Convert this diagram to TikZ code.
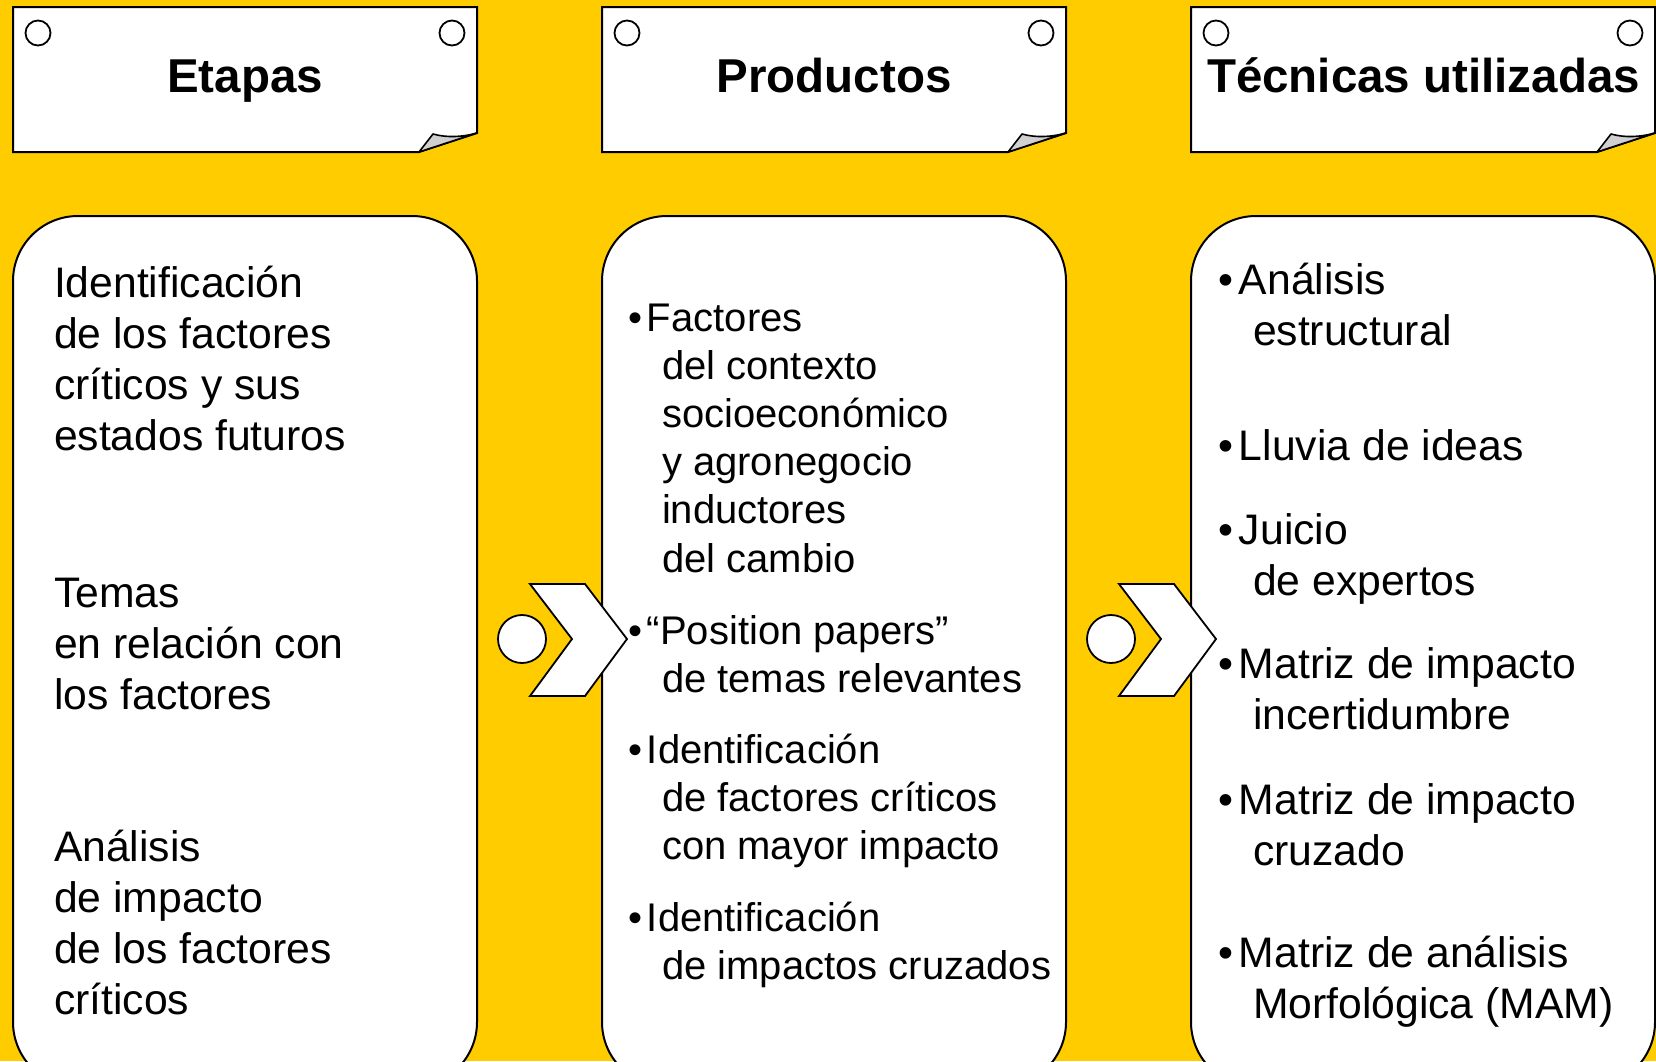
\documentclass[tikz,border=0pt]{standalone}
\usepackage{fontspec}
\setmainfont{Liberation Sans}
\definecolor{bg}{RGB}{255,204,0}
\definecolor{flapgray}{RGB}{208,208,208}
\newcommand\stk[2]{\vtop{\baselineskip=#1\lineskip=0pt\lineskiplimit=-1000pt\halign{##\hfil\cr#2\crcr}}}
\newcommand\bu[1]{\makebox[#1][l]{•}}
\begin{document}
\begin{tikzpicture}[x=1pt,y=-1pt,line width=2pt,
  every node/.style={inner sep=0pt,outer sep=0pt},
  card/.style={fill=white,draw=black,line join=miter},
  flapst/.style={fill=flapgray,draw=black,line width=1.6pt,line join=round},
  hole/.style={fill=white,draw=black,line width=1.8pt},
  panel/.style={fill=white,draw=black,rounded corners=65pt},
  chev/.style={fill=white,draw=black,line width=1.8pt,line join=miter},
  head/.style={font=\fontsize{47.5pt}{57pt}\selectfont\bfseries,anchor=base},
  ta/.style={font=\fontsize{42.7pt}{51pt}\selectfont,anchor=base west},
  tb/.style={font=\fontsize{40pt}{48pt}\selectfont,anchor=base west},
  tc/.style={font=\fontsize{42.7pt}{51pt}\selectfont,anchor=base west}]
\clip (0,0) rectangle (1656,1061);
\fill[bg] (0,0) rectangle (1656,1061);
\useasboundingbox (0,0) rectangle (1656,1061);

% header cards and panels
\foreach \x in {13,602,1191}{
  \draw[card] (\x,7) -- ++(464,0) -- ++(0,126) -- ++(-58,19) -- (\x,152) -- cycle;
  \draw[flapst] (\x+406,152) -- (\x+420,134) .. controls (\x+434,138) and (\x+450,137) .. (\x+464,133) -- cycle;
  \draw[hole] (\x+25,33) circle (12.5pt);
  \draw[hole] (\x+439,33) circle (12.5pt);
  \draw[panel] (\x,216) rectangle ++(464,871);
}

% chevrons
\foreach \o in {0,589}{
  \draw[chev] (530+\o,584) -- (585+\o,584) -- (627+\o,639) -- (585+\o,696) -- (530+\o,696) -- (572+\o,639) -- cycle;
  \draw[hole] (522+\o,639) circle (24pt);
}

% headers
\node[head] (h1) at (245,92) {Etapas};
\node[head] (h2) at (834,92) {Productos};
\node[head] (h3) at (1423.5,92) {Técnicas utilizadas};

% column 1
\node[ta] (e1) at (54,297) {\stk{51pt}{Identificación\cr de los factores\cr críticos y sus\cr estados futuros}};
\node[ta] (e2) at (54,607) {\stk{51pt}{Temas\cr en relación con\cr los factores}};
\node[ta] (e3) at (54,861) {\stk{51pt}{Análisis\cr de impacto\cr de los factores\cr críticos}};

% column 2
\node[tb] (p1) at (628,331) {\stk{48.2pt}{\bu{19pt}Factores\cr\hspace*{34pt}del contexto\cr\hspace*{34pt}socioeconómico\cr\hspace*{34pt}y agronegocio\cr\hspace*{34pt}inductores\cr\hspace*{34pt}del cambio}};
\node[tb] (p2) at (628,644) {\stk{48pt}{\bu{19pt}“Position papers”\cr\hspace*{34pt}de temas relevantes}};
\node[tb] (p3) at (628,763) {\stk{48.2pt}{\bu{19pt}Identificación\cr\hspace*{34pt}de factores críticos\cr\hspace*{34pt}con mayor impacto}};
\node[tb] (p4) at (628,931) {\stk{48pt}{\bu{19pt}Identificación\cr\hspace*{34pt}de impactos cruzados}};

% column 3
\node[tc] (c1) at (1218,294) {\stk{51.5pt}{\bu{21pt}Análisis\cr\hspace*{35pt}estructural}};
\node[tc] (c2) at (1218,460) {\stk{51.5pt}{\bu{21pt}Lluvia de ideas}};
\node[tc] (c3) at (1218,544) {\stk{51.5pt}{\bu{21pt}Juicio\cr\hspace*{35pt}de expertos}};
\node[tc] (c4) at (1218,678) {\stk{51.5pt}{\bu{21pt}Matriz de impacto\cr\hspace*{35pt}incertidumbre}};
\node[tc] (c5) at (1218,814) {\stk{51.5pt}{\bu{21pt}Matriz de impacto\cr\hspace*{35pt}cruzado}};
\node[tc] (c6) at (1218,967) {\stk{51.5pt}{\bu{21pt}Matriz de análisis\cr\hspace*{35pt}Morfológica (MAM)}};
\end{tikzpicture}
\end{document}
